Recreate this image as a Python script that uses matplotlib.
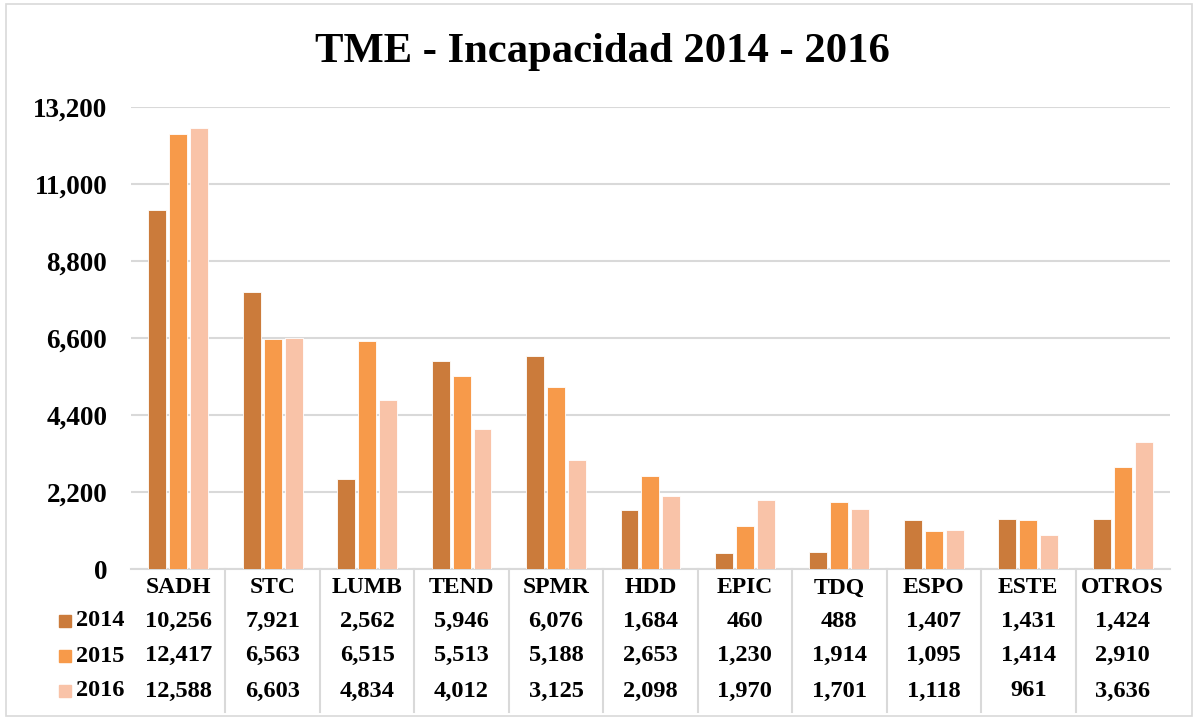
import matplotlib
matplotlib.use("Agg")
import matplotlib.pyplot as plt
import matplotlib.transforms as mtransforms
from matplotlib.patches import Rectangle
import numpy as np

categories = ["SADH", "STC", "LUMB", "TEND", "SPMR", "HDD", "EPIC", "TDQ", "ESPO", "ESTE", "OTROS"]
years = ["2014", "2015", "2016"]
v2014 = [10256, 7921, 2562, 5946, 6076, 1684, 460, 488, 1407, 1431, 1424]
v2015 = [12417, 6563, 6515, 5513, 5188, 2653, 1230, 1914, 1095, 1414, 2910]
v2016 = [12588, 6603, 4834, 4012, 3125, 2098, 1970, 1701, 1118, 961, 3636]
yticks = [0, 2200, 4400, 6600, 8800, 11000, 13200]
title = "TME - Incapacidad 2014 - 2016"

colors = ["#CB7B3B", "#F79A4A", "#F9C3A8"]
series = [v2014, v2015, v2016]

plt.rcParams['font.family'] = ['Liberation Serif', 'DejaVu Serif']
plt.rcParams['font.weight'] = 'bold'

fig = plt.figure(figsize=(11.98, 7.21), dpi=100)
fig.patches.append(Rectangle((0.005, 0.007), 0.990, 0.988, transform=fig.transFigure,
                             fill=False, edgecolor="#D9D9D9", linewidth=1.2))
ax = fig.add_axes([0.1093, 0.2108, 0.8673, 0.6408])

x = np.arange(len(categories))
offs = [-0.222, 0.0, 0.222]
for s, vals, c, o in zip(years, series, colors, offs):
    ax.bar(x + o, vals, width=0.19, color=c, edgecolor="white", linewidth=0.6, zorder=3)

ax.set_xlim(-0.5, len(categories) - 0.5)
ax.set_ylim(0, 13200)
ax.set_yticks(yticks)
ax.set_yticklabels([f"{t:,}" for t in yticks], fontsize=19.5, fontweight='bold')
ax.tick_params(axis='y', length=0, pad=17)
ax.set_xticks([])
ax.grid(axis='y', color="#D9D9D9", linewidth=1.5, zorder=0)
for sp in ["top", "right", "left"]:
    ax.spines[sp].set_visible(False)
ax.spines["bottom"].set_color("#D9D9D9")
ax.spines["bottom"].set_linewidth(1.5)

fig.text(0.503, 0.928, title, ha='center', va='center', fontsize=30.7, fontweight='bold')

trans = mtransforms.blended_transform_factory(ax.transData, ax.transAxes)
row_y = [-0.041, -0.1126, -0.188, -0.264]
for i, cat in enumerate(categories):
    ax.text(i, row_y[0], cat, transform=trans, ha='center', va='center',
            fontsize=17, fontweight='bold', clip_on=False)
    for r, vals in enumerate(series):
        ax.text(i, row_y[r + 1], f"{vals[i]:,}", transform=trans, ha='center', va='center',
                fontsize=17.6, fontweight='bold', clip_on=False)
for b in np.arange(0.5, len(categories) - 1, 1.0):
    ax.plot([b, b], [0, -0.31], transform=trans, color="#D9D9D9", linewidth=1.5, clip_on=False)

for r, (yr, c) in enumerate(zip(years, colors)):
    yfig = 1 - (621 + 35 * r) / 721
    fig.patches.append(Rectangle((59 / 1198, yfig - 6 / 721), 12 / 1198, 12 / 721,
                                 transform=fig.transFigure, color=c))
    fig.text(76 / 1198, yfig, yr, ha='left', va='center', fontsize=17.5, fontweight='bold')

fig.savefig("out.png", dpi=100)
